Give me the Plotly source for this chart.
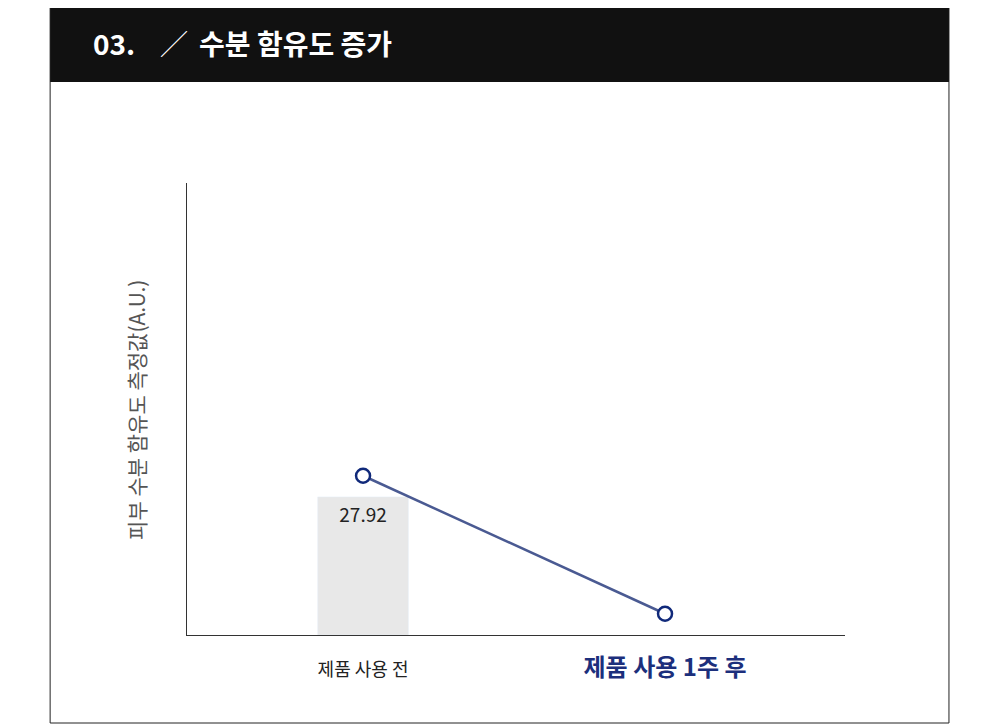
import plotly.graph_objects as go

categories = ["제품 사용 전", "제품 사용 1주 후"]
tick_labels = ["<span style='color:#222222'>제품 사용 전</span>",
               "<b><span style='color:#1c2f7c;font-size:24px'>제품 사용 1주 후</span></b>"]
bar_values = [27.92, None]
line_values = [32.2, 4.3]

FONT = "Noto Sans CJK KR"

fig = go.Figure()
fig.add_trace(go.Bar(x=categories, y=bar_values, width=0.3, marker_color="#e8e8e8",
                     text=["27.92", ""], textposition="inside", insidetextanchor="end",
                     textfont=dict(size=19, color="#222222", family=FONT), cliponaxis=False))
fig.add_trace(go.Scatter(x=categories, y=line_values, mode="lines+markers",
                         line=dict(color="#4a5a92", width=2.5),
                         marker=dict(size=14, color="white", line=dict(color="#10297a", width=2.5)),
                         cliponaxis=False))

# page body has an 8px margin, so margins are shifted by 8px to line up with the reference
fig.update_layout(
    width=1000, height=724, showlegend=False,
    paper_bgcolor="white", plot_bgcolor="white",
    margin=dict(l=179, r=163, t=175, b=97),
    font=dict(family=FONT, color="#222222"),
    xaxis=dict(type="category", range=[-0.583, 1.596], tickvals=categories, ticktext=tick_labels,
               tickfont=dict(size=18, family=FONT), ticks="", showline=True, linecolor="#333333",
               linewidth=1, showgrid=False, zeroline=False, ticklabelstandoff=18),
    yaxis=dict(range=[0, 91.4], showticklabels=False, ticks="", showline=True, linecolor="#333333",
               linewidth=1, showgrid=False, zeroline=False),
    shapes=[
        dict(type="rect", xref="paper", yref="paper", x0=-0.208, x1=1.158, y0=-0.1947, y1=1.405,
             line=dict(color="#222222", width=1), fillcolor="rgba(0,0,0,0)", layer="below"),
        dict(type="rect", xref="paper", yref="paper", x0=-0.208, x1=1.158, y0=1.2235, y1=1.405,
             line=dict(width=0), fillcolor="#111111"),
    ],
    annotations=[
        dict(text="<b>03.</b>", xref="paper", yref="paper", x=-0.146, y=1.31, xanchor="left",
             yanchor="middle", showarrow=False, font=dict(size=28, color="white", family=FONT)),
        dict(text="╱", xref="paper", yref="paper", x=-0.042, y=1.31, xanchor="left",
             yanchor="middle", showarrow=False, font=dict(size=26, color="white", family=FONT)),
        dict(text="<b>수분 함유도 증가</b>", xref="paper", yref="paper", x=0.0155, y=1.31,
             xanchor="left", yanchor="middle", showarrow=False,
             font=dict(size=28, color="white", family=FONT)),
        dict(text="피부 수분 함유도 측정값(A.U.)", xref="paper", yref="paper", x=-0.0775, y=0.498,
             textangle=-90, xanchor="center", yanchor="middle", showarrow=False,
             font=dict(size=21, color="#555555", family=FONT)),
    ],
)

fig.write_html("out.html")
